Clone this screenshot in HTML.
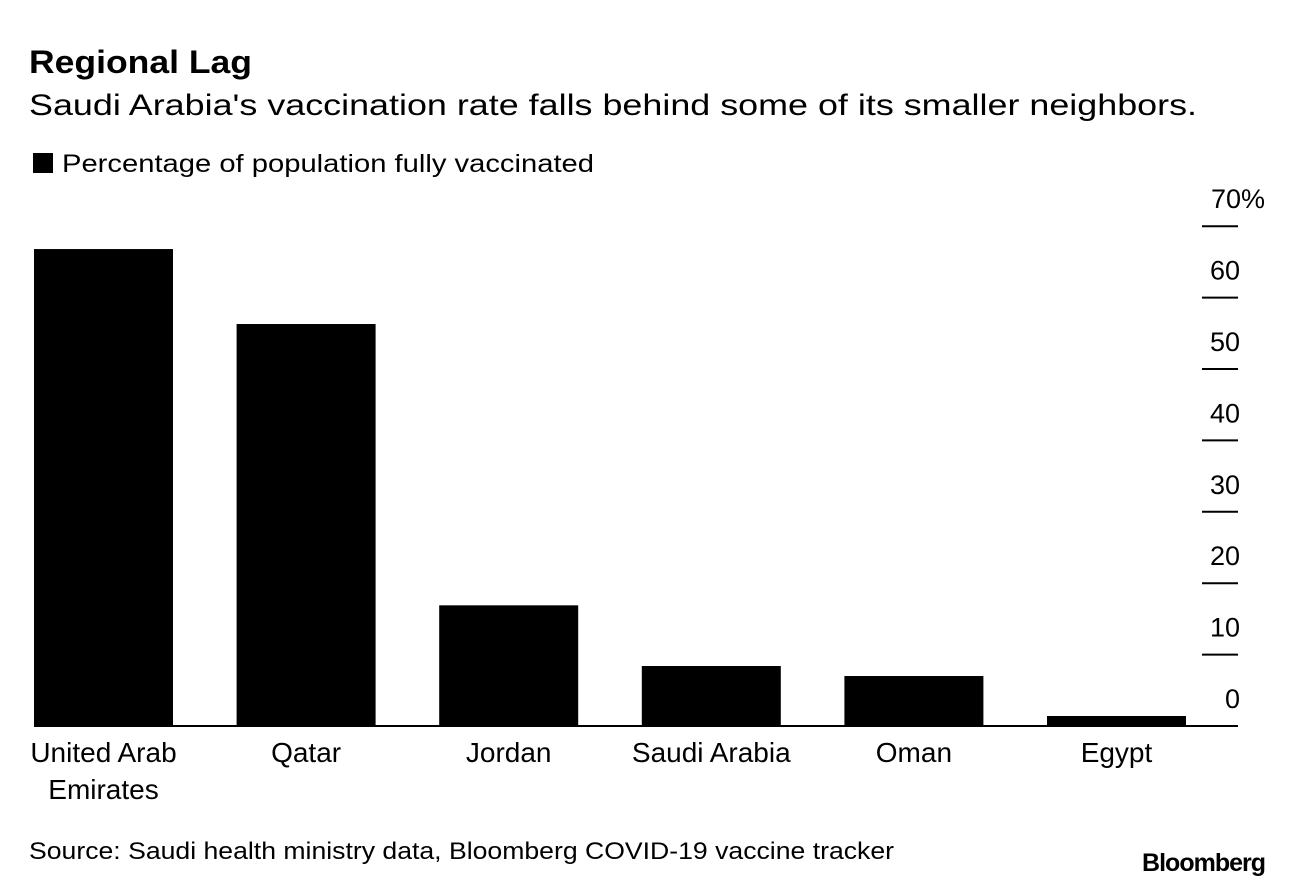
<!DOCTYPE html>
<html><head><meta charset="utf-8"><style>
body{margin:0;background:#fff;width:1293px;height:888px;overflow:hidden;font-family:"Liberation Sans",sans-serif;}
</style></head><body>
<svg width="1293" height="888" viewBox="0 0 1293 888" style="font-family:'Liberation Sans',sans-serif">
<text x="29" y="73" font-size="32" font-weight="bold" textLength="223" lengthAdjust="spacingAndGlyphs">Regional Lag</text>
<text x="29" y="115" font-size="30" textLength="1168" lengthAdjust="spacingAndGlyphs">Saudi Arabia's vaccination rate falls behind some of its smaller neighbors.</text>
<rect x="33" y="153" width="20" height="20" fill="#000"/>
<text x="62" y="172" font-size="25" textLength="532" lengthAdjust="spacingAndGlyphs">Percentage of population fully vaccinated</text>
<g id="ticks"></g>
<g id="bars"></g>
<line x1="34" x2="1238" y1="726" y2="726" stroke="#000" stroke-width="2"/>
<text x="29" y="859" font-size="24" textLength="865" lengthAdjust="spacingAndGlyphs">Source: Saudi health ministry data, Bloomberg COVID-19 vaccine tracker</text>
<text x="1265" y="871" font-size="25" font-weight="bold" text-anchor="end" letter-spacing="-1">Bloomberg</text>
</svg>
<script>
const categories=[["United Arab","Emirates"],["Qatar"],["Jordan"],["Saudi Arabia"],["Oman"],["Egypt"]];
const values=[66.8,56.3,16.9,8.4,7.0,1.4];
const tickValues=[0,10,20,30,40,50,60,70];
const tickLabels=["0","10","20","30","40","50","60","70%"];
const NS="http://www.w3.org/2000/svg";
const y=v=>726-v*7.14;
const x=i=>34+i*202.6;
const bw=139;
const bars=document.getElementById('bars'),ticks=document.getElementById('ticks');
function mk(t,a,p){const e=document.createElementNS(NS,t);for(const k in a)e.setAttribute(k,a[k]);p.appendChild(e);return e;}
tickValues.forEach((v,i)=>{
 if(v>0){const l=mk('line',{x1:1202,x2:1238,y1:y(v),y2:y(v),stroke:'#000','stroke-width':2},ticks);
 
 }
 const t=mk('text',{x:v==70?1265:1240,y:y(v)-18,'font-size':27,'text-anchor':'end'},ticks);
 
 
 t.textContent=tickLabels[i];
});
values.forEach((v,i)=>{
 const r=mk('rect',{x:x(i),y:y(v),width:bw,height:726-y(v),fill:'#000'},bars);
 
 
 categories[i].forEach((ln,j)=>{
  const t=mk('text',{x:x(i)+bw/2,y:762+j*37,'font-size':28,'text-anchor':'middle'},bars);
  
  
  t.textContent=ln;
 });
});
</script>
</body></html>
